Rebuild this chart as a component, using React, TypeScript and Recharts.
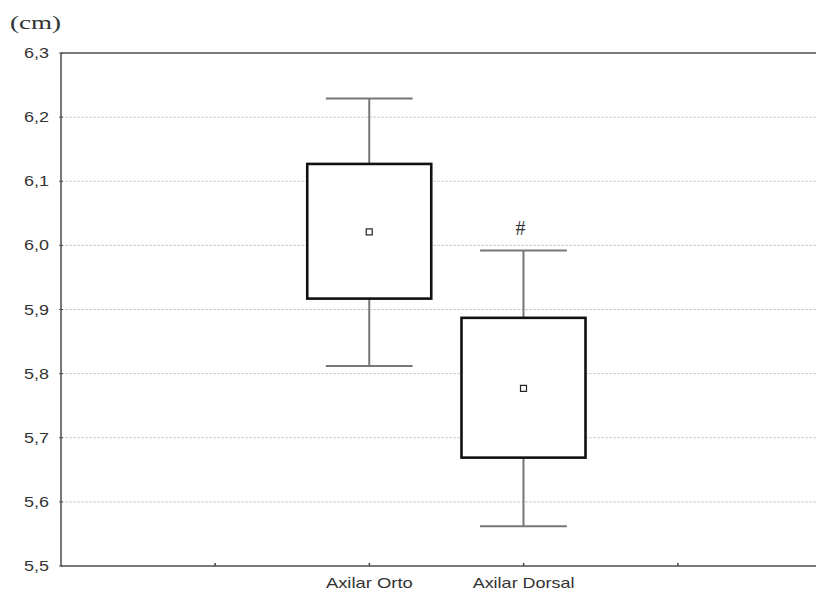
import React from "react";
import {
  ComposedChart,
  Bar,
  XAxis,
  YAxis,
  CartesianGrid,
  ReferenceLine,
} from "recharts";

const categories = ["", "Axilar Orto", "Axilar Dorsal", " "];
const boxLow = [null, 5.917, 5.669, null];
const boxHigh = [null, 6.127, 5.887, null];
const whiskerLow = [null, 5.812, 5.562, null];
const whiskerHigh = [null, 6.229, 5.992, null];
const means = [null, 6.021, 5.777, null];
const marks = ["", "", "#", ""];
const yTicks = [5.5, 5.6, 5.7, 5.8, 5.9, 6.0, 6.1, 6.2, 6.3];

const data = categories.map((name, i) => ({
  name,
  box: boxLow[i] == null ? null : [boxLow[i], boxHigh[i]],
  lo: whiskerLow[i],
  hi: whiskerHigh[i],
  mean: means[i],
  mark: marks[i],
}));

const SANS = "Liberation Sans, Arial, sans-serif";
const SERIF = "Liberation Serif, Times New Roman, serif";

const BoxShape = (props: any) => {
  const { x, y, width, height, payload } = props;
  if (!payload || payload.box == null) return <g />;
  const top = Math.min(y, y + height);
  const bot = Math.max(y, y + height);
  const [b0, b1] = payload.box;
  const ppu = (bot - top) / (b1 - b0);
  const toY = (v: number) => top + (b1 - v) * ppu;
  const cx = x + width / 2;
  const capHalf = width * 0.35;
  const yHi = toY(payload.hi);
  const yLo = toY(payload.lo);
  const yMean = toY(payload.mean);
  const wStroke = "#777";
  return (
    <g>
      <line x1={cx} y1={yHi} x2={cx} y2={top} stroke={wStroke} strokeWidth={2} />
      <line x1={cx - capHalf} y1={yHi} x2={cx + capHalf} y2={yHi} stroke={wStroke} strokeWidth={2} />
      <line x1={cx} y1={bot} x2={cx} y2={yLo} stroke={wStroke} strokeWidth={2} />
      <line x1={cx - capHalf} y1={yLo} x2={cx + capHalf} y2={yLo} stroke={wStroke} strokeWidth={2} />
      <rect x={x} y={top} width={width} height={bot - top} fill="#fff" stroke="#111" strokeWidth={2.6} />
      <rect x={cx - 3} y={yMean - 3} width={6} height={6} fill="#fff" stroke="#222" strokeWidth={1.2} />
      {payload.mark ? (
        <text
          x={cx - 3}
          y={yHi - 16}
          textAnchor="middle"
          fontFamily={SERIF}
          fontSize={20}
          fill="#333"
        >
          {payload.mark}
        </text>
      ) : null}
    </g>
  );
};

const XTick = (props: any) => {
  const { x, y, payload } = props;
  const label = String(payload.value);
  const len = label.trim() === "" ? 0 : label.length >= 13 ? 102 : 87;
  return (
    <g>
      <line x1={x} y1={y - 3} x2={x} y2={y} stroke="#444" strokeWidth={1.5} />
      {len > 0 ? (
        <text
          x={x - len / 2}
          y={y + 22}
          textAnchor="start"
          fontFamily={SANS}
          fontSize={15}
          fill="#333"
          textLength={len}
          lengthAdjust="spacingAndGlyphs"
        >
          {label}
        </text>
      ) : null}
    </g>
  );
};

const YTick = (props: any) => {
  const { x, y, payload } = props;
  const label = Number(payload.value).toFixed(1).replace(".", ",");
  return (
    <g>
      <line x1={x + 10} y1={y} x2={x + 14} y2={y} stroke="#555" strokeWidth={1} />
      <text
        x={x - 25}
        y={y + 5}
        textAnchor="start"
        fontFamily={SANS}
        fontSize={14}
        fill="#333"
        textLength={25}
        lengthAdjust="spacingAndGlyphs"
      >
        {label}
      </text>
    </g>
  );
};

export default function App() {
  return (
    <div style={{ position: "relative", width: 816, height: 585 }}>
      <svg
        width={120}
        height={40}
        style={{ position: "absolute", left: 0, top: 0 }}
      >
        <text x={2} y={21} fontFamily={SERIF} fontSize={19} fill="#333" textLength={51} lengthAdjust="spacingAndGlyphs">
          (cm)
        </text>
      </svg>
      <ComposedChart
        width={816}
        height={585}
        data={data}
        margin={{ top: 45, right: -8, left: 0, bottom: 0 }}
        barSize={124}
      >
        <CartesianGrid
          horizontal={true}
          vertical={false}
          stroke="#cfcfcf"
          strokeDasharray="3 1"
        />
        <XAxis
          dataKey="name"
          type="category"
          padding={{ left: 77, right: 77 }}
          height={27}
          tickLine={false}
          tickSize={0}
          tickMargin={0}
          axisLine={{ stroke: "#555", strokeWidth: 1.6 }}
          tick={<XTick />}
          interval={0}
        />
        <YAxis
          type="number"
          domain={[5.5, 6.3]}
          ticks={yTicks}
          width={53}
          tickLine={false}
          tickSize={0}
          tickMargin={12}
          axisLine={{ stroke: "#555", strokeWidth: 1.6 }}
          tick={<YTick />}
          allowDataOverflow={true}
        />
        <ReferenceLine y={6.3} stroke="#555" strokeWidth={1.6} />
        <Bar dataKey="box" shape={<BoxShape />} isAnimationActive={false} />
      </ComposedChart>
    </div>
  );
}
